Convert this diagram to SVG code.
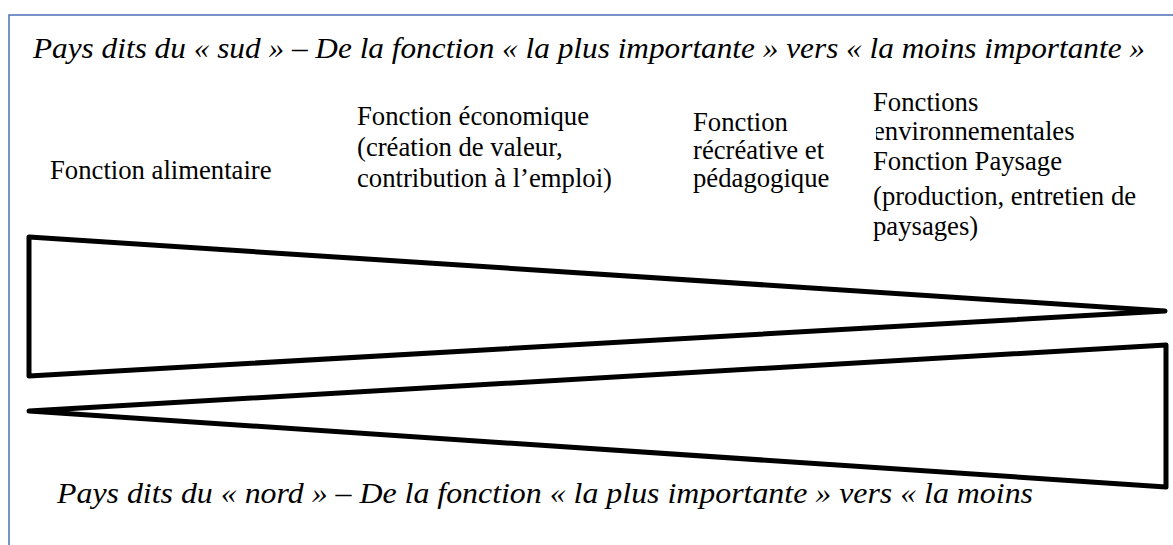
<svg xmlns="http://www.w3.org/2000/svg" width="1173" height="545" viewBox="0 0 1173 545">
<style>
.frame{fill:none;stroke:#4a6fb5;stroke-width:1.5}
.wedge{fill:#fff;stroke:#000;stroke-width:5;stroke-linejoin:round}
.title{font-style:italic;font-size:29.3px;fill:#000}
.lbl{font-size:26.7px;fill:#000}
</style>
<defs>
<clipPath id="clipEnv"><rect x="876" y="115" width="300" height="40"/></clipPath>
</defs>
<rect class="frame" x="9" y="15" width="1200" height="600"/>
<g font-family="Liberation Serif, Times New Roman, DejaVu Serif, serif">
<text id="title-sud" class="title" x="33" y="58" textLength="1112" lengthAdjust="spacingAndGlyphs">Pays dits du « sud » – De la fonction « la plus importante » vers « la moins importante »</text>
<g id="label-alimentaire"><text class="lbl" x="50" y="179">Fonction alimentaire</text></g>
<g id="label-economique"><text class="lbl" x="357" y="125">Fonction économique</text><text class="lbl" x="357" y="156">(création de valeur,</text><text class="lbl" x="357" y="187">contribution à l’emploi)</text></g>
<g id="label-recreative"><text class="lbl" x="693" y="131">Fonction</text><text class="lbl" x="693" y="159">récréative et</text><text class="lbl" x="693" y="187">pédagogique</text></g>
<g id="label-environnement"><text class="lbl" x="873" y="111">Fonctions</text><text class="lbl" x="873" y="140" clip-path="url(#clipEnv)">environnementales</text><text class="lbl" x="873" y="170">Fonction Paysage</text><text class="lbl" x="873" y="205">(production, entretien de</text><text class="lbl" x="873" y="235">paysages)</text></g>
<g id="wedge-sud"><polygon class="wedge" points="29,237 1165,311 29,376"/></g>
<g id="wedge-nord"><polygon class="wedge" points="29,411 1166,345 1166,487"/></g>
<text id="title-nord" class="title" x="57" y="503" textLength="976" lengthAdjust="spacingAndGlyphs">Pays dits du « nord » – De la fonction « la plus importante » vers « la moins</text>
</g>
</svg>
